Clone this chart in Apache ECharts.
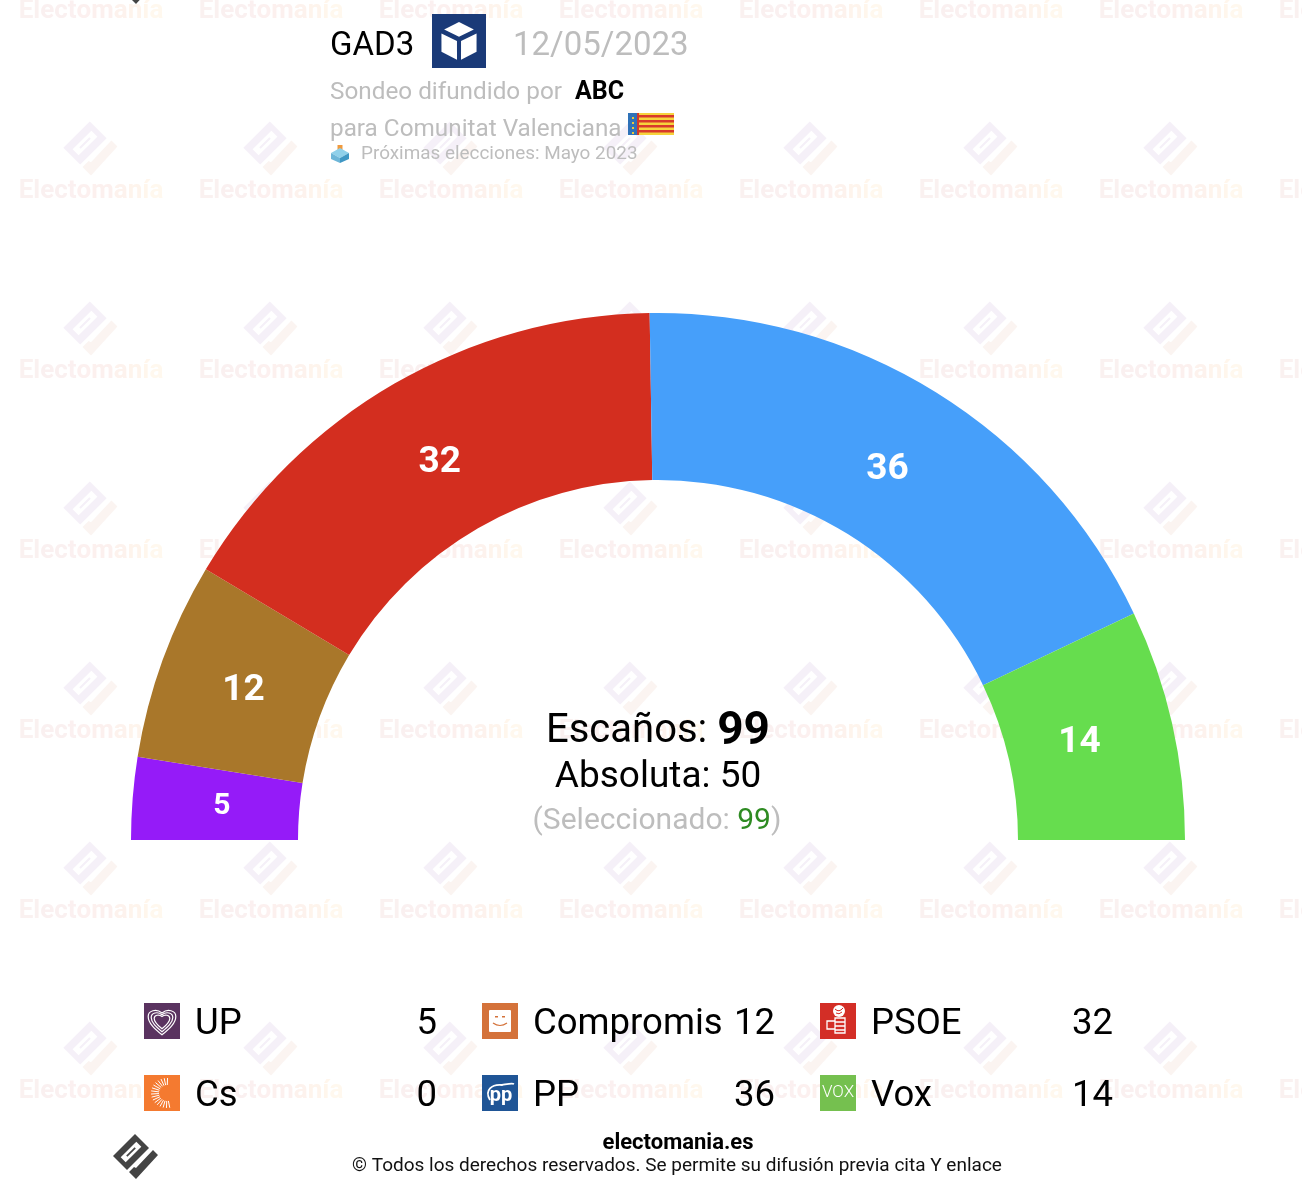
<!DOCTYPE html>
<html><head><meta charset="utf-8">
<style>html,body{margin:0;padding:0;background:#fff;overflow:hidden}#c{width:1302px;height:1190px}</style>
<script src="https://cdn.jsdelivr.net/npm/echarts@6/dist/echarts.min.js"></script>
</head><body><div id="c"></div>
<script>
const parties = ['UP','Cs','Compromis','PP','PSOE','Vox'];
const seats = [5,0,12,36,32,14];
const arcOrder = ['UP','Cs','Compromis','PSOE','PP','Vox'];
const arcColors = {UP:'#951bf8',Cs:'#f47a30',Compromis:'#a9772a',PSOE:'#d32e1f',PP:'#469ffa',Vox:'#66dd4e'};
const totalSeats = 99, majority = 50, selected = 99;
const pollster = 'GAD3', pollDate = '12/05/2023', sponsor = 'ABC', region = 'Comunitat Valenciana';
const nextElection = 'Próximas elecciones: Mayo 2023';
const watermark = 'Electomanía';

const FONT = 'Roboto';
const chart = echarts.init(document.getElementById('c'), null, {width:1302,height:1190});
const G = [];
function T(x,y,s,size,fill,o={}){
  return {type:'text',x,y:y+2,z:o.z||10,silent:true,style:{text:s,font:`${o.weight||400} ${size}px ${FONT}`,fill,align:o.align||'left',verticalAlign:'middle'}};
}
function P(pts,fill,ox,oy,k,z){
  return {type:'polygon',z:z||10,silent:true,shape:{points:pts.map(p=>[ox+p[0]*k,oy+p[1]*k])},style:{fill}};
}
function R(x,y,w,h,fill,z,r){return {type:'rect',z:z||10,silent:true,shape:{x,y,width:w,height:h,r:r||0},style:{fill}};}
const BODY=[[-1,-23],[13,-9],[-9,13],[-23,-1]];
const SLOT=[[5.3,-10.3],[.3,-15.3],[-15.3,.3],[-10.3,5.3]];
const BAR=[[-.2,-8.6],[-1.4,-9.8],[-9.8,-1.4],[-8.6,-.2]];
const CHECK=[[-7,15],[0,22],[22,-2],[17,-7],[0,11],[-2,10]];
function logo(cx,cy,k,body,check,slot,z){
  G.push(P(BODY,body,cx,cy,k,z),P(SLOT,slot,cx,cy,k,z),P(BAR,body,cx,cy,k,z),P(CHECK,check,cx,cy,k,z));
}
// watermark tiles: per-letter tint from pale rose to pale peach
const wmTints=['#faf1f0','#faf1f0','#faf0f0','#faf0f0','#fbf0f0','#fcf0ef','#fcf0ee','#fdf2ed','#fef4ec','#fff6ec','#fff8ee'];
const wmRich={}; wmTints.forEach((c,i)=>{wmRich['c'+i]={font:`700 26px ${FONT}`,fill:c};});
const wmText=[...watermark].map((ch,i)=>`{c${i}|${ch}}`).join('');
for(let j=-1;j<6;j++){for(let i=0;i<8;i++){
  const x=91+180*i, y=189+180*j;
  logo(x,y-40,1.2,'#f5f0f8','#fbf4f1','#ffffff',1);
  G.push({type:'text',x,y:y+2,z:1,silent:true,style:{text:wmText,rich:wmRich,align:'center',verticalAlign:'middle'}});
}}
// header
G.push(T(330,45,pollster,33,'#000'));
G.push(R(432,14,54,54,'#1a3a78'));
G.push(P([[0,-12],[11,-6.5],[0,-1],[-11,-6.5]],'#fff',459,38.2,1.35));
G.push(P([[-13,-3.5],[-1.5,2],[-1.5,16],[-13,10]],'#fff',459,38.2,1.35));
G.push(P([[13,-3.5],[1.5,2],[1.5,16],[13,10]],'#fff',459,38.2,1.35));
G.push(T(513,45,pollDate,33,'#bdbdbd'));
G.push(T(330,91,'Sondeo difundido por',24.3,'#bdbdbd'));
G.push(T(575,91,sponsor,25,'#000',{weight:700}));
G.push(T(330,128,'para '+region,24.3,'#bdbdbd'));
// flag
G.push(R(628,113,46,22,'#f6d33c'));
G.push(R(628,113,9,22,'#2f72b8'));
G.push(R(637,113,2,22,'#d0392b'));
[117,122,127,132].forEach(y=>G.push(R(632,y,2,2,'#e8c83c')));
[115,120,125,130].forEach(y=>G.push(R(639,y,35,2.6,'#d8392b')));
// ballot box
G.push(R(337.5,145,5,6,'#f09a3e'));
G.push(P([[0,-6],[9,-1],[0,4],[-9,-1]],'#8fd0ea',340,154,1));
G.push(P([[-9,-1],[0,4],[0,9],[-9,5]],'#6db6d8',340,154,1));
G.push(P([[9,-1],[0,4],[0,9],[9,5]],'#3f97c4',340,154,1));
G.push(T(361,152,nextElection,18.9,'#bdbdbd'));
// centre text
G.push({type:'text',x:658,y:732,z:20,silent:true,style:{align:'center',verticalAlign:'middle',text:`{a|Escaños: }{b|${totalSeats}}`,rich:{a:{font:`400 40px ${FONT}`,fill:'#000'},b:{font:`700 46px ${FONT}`,fill:'#000'}}}});
G.push(T(658,776,`Absoluta: ${majority}`,37,'#000',{align:'center',z:20}));
G.push({type:'text',x:657,y:821,z:20,silent:true,style:{align:'center',verticalAlign:'middle',text:`{a|(Seleccionado: }{b|${selected}}{a|)}`,rich:{a:{font:`400 30px ${FONT}`,fill:'#bdbdbd'},b:{font:`400 30px ${FONT}`,fill:'#2e8b22'}}}});
// legend
const LX=[144,482,820], LY=[1021,1093];
const iconCol={UP:'#5a3360',Compromis:'#d4723a',PSOE:'#d32e26',Cs:'#f47a30',PP:'#1f5596',Vox:'#75c04f'};
let pathN=0;
function W(d,sw,o={}){
  const name='ico'+(pathN++);
  echarts.graphic.registerShape(name,echarts.graphic.extendPath(d,{}));
  return {type:name,z:12,silent:true,style:{fill:o.fill||'none',stroke:o.stroke===undefined?'#fff':o.stroke,lineWidth:sw}};
}
function icon(name,x,y){
  G.push(R(x,y,36,36,iconCol[name],11));
  const cx=x+18,cy=y+18;
  const heart=(s)=>`M${cx} ${cy+12*s}C${cx-6*s} ${cy+7*s} ${cx-12*s} ${cy+2*s} ${cx-12*s} ${cy-4*s}C${cx-12*s} ${cy-9*s} ${cx-5*s} ${cy-11*s} ${cx} ${cy-7*s}C${cx+5*s} ${cy-11*s} ${cx+12*s} ${cy-9*s} ${cx+12*s} ${cy-4*s}C${cx+12*s} ${cy+2*s} ${cx+6*s} ${cy+7*s} ${cx} ${cy+12*s}Z`;
  if(name==='UP'){[1.15,.9,.65].forEach(s=>G.push(W(heart(s),1.2)));}
  if(name==='Compromis'){
    G.push(R(x+7,y+7,22,22,'#fff',12,1));
    G.push(W(`M${cx-7} ${cy+2}Q${cx} ${cy+7} ${cx+7} ${cy+2}`,1.2,{stroke:'#d4723a'}));
    G.push(R(cx-5,cy-5,3,1.5,'#d4723a',13),R(cx+2,cy-5,3,1.5,'#d4723a',13));
  }
  if(name==='PSOE'){
    G.push({type:'circle',z:12,silent:true,shape:{cx:cx+1,cy:cy-10,r:6},style:{fill:'#fff'}});
    G.push(W(`M${cx-3} ${cy-12}Q${cx+1} ${cy-8} ${cx+5} ${cy-13}M${cx-2} ${cy-8}Q${cx+1} ${cy-6} ${cx+4} ${cy-9}`,1,{stroke:iconCol.PSOE}));
    G.push(W(`M${cx-3} ${cy-3}H${cx+7}V${cy+12}H${cx-3}V${cy+8}H${cx-11}V${cy}H${cx-3}ZM${cx-3} ${cy}V${cy+8}M${cx-3} ${cy+1}H${cx+7}M${cx-3} ${cy+5}H${cx+7}M${cx-3} ${cy+9}H${cx+7}`,1.3));
  }
  if(name==='Cs'){
    for(let a=80;a<=280;a+=12){const r=a*Math.PI/180, c=Math.cos(r), s=Math.sin(r);
      G.push({type:'line',z:12,silent:true,shape:{x1:cx+5+c*8,y1:cy+s*8,x2:cx+5+c*16,y2:cy+s*15},style:{stroke:'#fff',lineWidth:1}});}
  }
  if(name==='PP'){
    G.push(W(`M${cx-10} ${cy+7}C${cx-16} ${cy-3} ${cx-8} ${cy-9} ${cx+2} ${cy-8}C${cx+8} ${cy-9} ${cx+12} ${cy-10} ${cx+14} ${cy-9}`,1.8));
    G.push(T(cx+1,cy+1,'pp',20,'#fff',{weight:700,align:'center',z:12}));
  }
  if(name==='Vox'){G.push(T(cx,cy-2,'VOX',17,'#fff',{weight:300,align:'center',z:12}));}
}
parties.forEach((p,i)=>{
  const col=Math.floor(i/2), row=i%2, x=LX[col], y=LY[row];
  icon(p,x,y-18);
  G.push(T(x+51,y+2,p,36.5,'#000',{z:12}));
  G.push(T(x+293,y+2,String(seats[i]),36.5,'#000',{align:'right',z:12}));
});
// footer
logo(136,1157,1,'#444','#444','#fff',10);
logo(136,-18,1,'#444','#444','#fff',10);
G.push(T(678,1141,'electomania.es',22,'#000',{weight:700,align:'center'}));
G.push(T(677,1164,'© Todos los derechos reservados. Se permite su difusión previa cita Y enlace',19,'#111',{align:'center'}));

// label nudges (dx, dy) relative to the slice mid-point
const labelNudge = {UP:[9,2],Compromis:[5,3],PSOE:[5,9],PP:[-6,9],Vox:[-14,1]};
const pieData = arcOrder.map(n=>{
  const v=seats[parties.indexOf(n)];
  return {name:n,value:v,itemStyle:{color:arcColors[n]},label:{show:v>0,fontSize:v<10?30:37}};
});
chart.setOption({
  animation:false,
  backgroundColor:'#fff',
  series:[{type:'pie',z:5,center:[658,840],radius:[360,527],startAngle:180,endAngle:0,clockwise:true,
    avoidLabelOverlap:false,silent:true,minAngle:0,
    labelLayout:function(p){const n=labelNudge[arcOrder[p.dataIndex]]||[0,0];return {dx:n[0],dy:n[1]};},
    label:{position:'inside',formatter:'{c}',color:'#fff',fontFamily:FONT,fontWeight:700,fontSize:37},
    labelLine:{show:false},emphasis:{disabled:true},data:pieData}],
  graphic:{elements:G}
});
</script></body></html>
